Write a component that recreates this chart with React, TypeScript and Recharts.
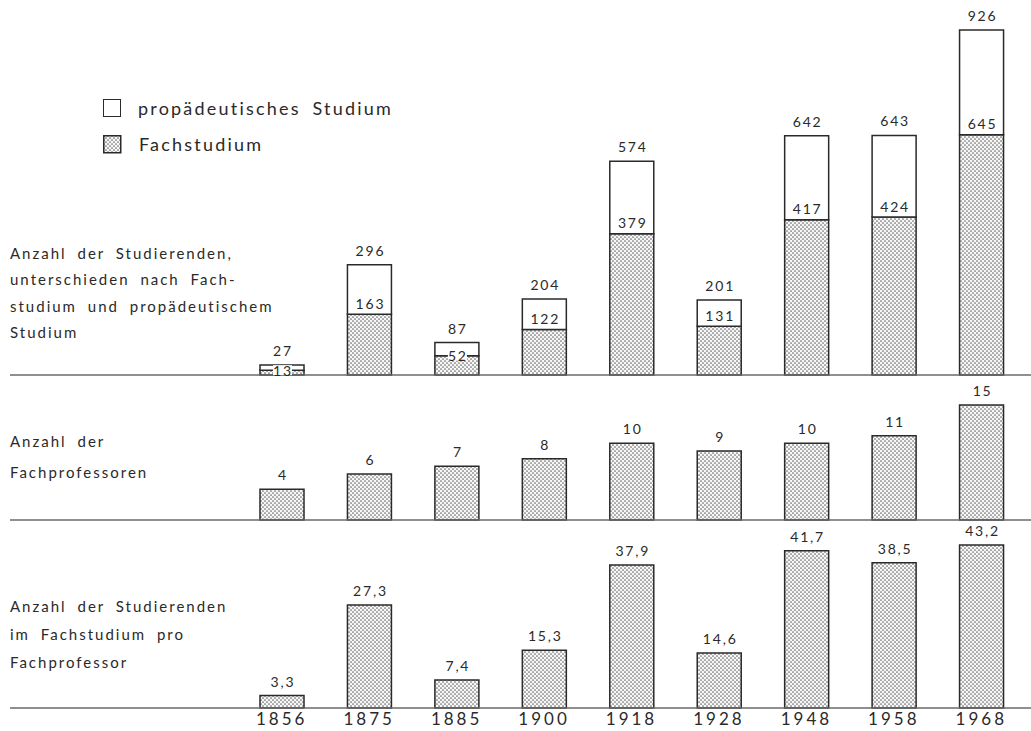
import React from 'react';
import { BarChart, Bar, XAxis, YAxis, LabelList } from 'recharts';

const years = ['1856', '1875', '1885', '1900', '1918', '1928', '1948', '1958', '1968'];
const totalStudents = [27, 296, 87, 204, 574, 201, 642, 643, 926];
const fachStudents = [13, 163, 52, 122, 379, 131, 417, 424, 645];
const professors = [4, 6, 7, 8, 10, 9, 10, 11, 15];
const studentsPerProf = [3.3, 27.3, 7.4, 15.3, 37.9, 14.6, 41.7, 38.5, 43.2];

const topData = years.map((y, i) => ({
  year: y,
  fach: fachStudents[i],
  prop: totalStudents[i] - fachStudents[i],
  total: totalStudents[i],
}));
const midData = years.map((y, i) => ({ year: y, v: professors[i] }));
const botData = years.map((y, i) => ({ year: y, v: studentsPerProf[i] }));

const FONT = 'Lato, "DejaVu Sans", sans-serif';
const INK = '#2a2a2a';
const AXIS = '#6a6a6a';

const Dots = ({ id }: { id: string }) => (
  <defs>
    <pattern id={id} width="4" height="4" patternUnits="userSpaceOnUse">
      <rect width="4" height="4" fill="#f7f7f7" />
      <circle cx="1" cy="1" r="0.85" fill="#6a6a6a" />
      <circle cx="3" cy="3" r="0.85" fill="#6a6a6a" />
    </pattern>
  </defs>
);

const fmt = (v: any) => String(v).replace('.', ',');

const topLabel = (props: any) => {
  const { x, y, width, value } = props;
  return (
    <text x={x + width / 2 + 1} y={y - 9} textAnchor="middle" fontSize={14} fontFamily={FONT} fill={INK} letterSpacing={1.8}>
      {fmt(value)}
    </text>
  );
};

const fachLabel = (props: any) => {
  const { x, y, width, height, index } = props;
  const boundary = y + height;
  const val = fachStudents[index];
  const cx = x + width / 2 + 1;
  if (height < 22) {
    return (
      <g>
        <rect x={cx - 10} y={boundary - 5} width={19} height={10} fill="#fff" />
        <text x={cx} y={boundary} dominantBaseline="central" textAnchor="middle" fontSize={14} fontFamily={FONT} fill={INK} letterSpacing={1.8}>
          {val}
        </text>
      </g>
    );
  }
  return (
    <text x={cx} y={boundary - 11} dominantBaseline="central" textAnchor="middle" fontSize={14} fontFamily={FONT} fill={INK} letterSpacing={1.8}>
      {val}
    </text>
  );
};

const commonX = {
  dataKey: 'year',
  padding: { left: 228, right: 6 },
  tickLine: false,
  axisLine: { stroke: AXIS, strokeWidth: 1.5 },
};

const sideText: React.CSSProperties = {
  position: 'absolute',
  left: 10,
  fontFamily: FONT,
  fontSize: 15,
  color: INK,
  letterSpacing: 2,
  wordSpacing: 5,
  whiteSpace: 'nowrap',
};

export default function App() {
  return (
    <div style={{ position: 'absolute', left: 0, top: 0, width: 1031, height: 731, background: '#fff', overflow: 'hidden' }}>
      {/* Legend */}
      <div style={{ position: 'absolute', left: 103, top: 90, fontFamily: FONT, fontSize: 18, color: INK, letterSpacing: 2.2, wordSpacing: 5 }}>
        <div style={{ display: 'flex', alignItems: 'center', height: 36 }}>
          <span style={{ width: 16, height: 16, border: `1.5px solid ${INK}`, background: '#fff', display: 'inline-block', marginRight: 17 }} />
          propädeutisches Studium
        </div>
        <div style={{ display: 'flex', alignItems: 'center', height: 36 }}>
          <svg width={19} height={19} style={{ marginRight: 17 }}>
            <Dots id="legdots" />
            <rect x={0.75} y={0.75} width={17} height={17} fill="url(#legdots)" stroke={INK} strokeWidth={1.5} />
          </svg>
          Fachstudium
        </div>
      </div>

      <div style={{ ...sideText, top: 240, lineHeight: '26.3px' }}>
        Anzahl der Studierenden,<br />unterschieden nach Fach-<br />studium und propädeutischem<br />Studium
      </div>
      <div style={{ ...sideText, top: 426, lineHeight: '31px' }}>
        Anzahl der<br />Fachprofessoren
      </div>
      <div style={{ ...sideText, top: 592, lineHeight: '28px' }}>
        Anzahl der Studierenden<br />im Fachstudium pro<br />Fachprofessor
      </div>

      {/* Top panel */}
      <div style={{ position: 'absolute', left: 0, top: 0 }}>
        <BarChart width={1031} height={380} data={topData} margin={{ top: 30, right: 0, bottom: 4, left: 10 }} barSize={44}>
          <Dots id="dotsTop" />
          <XAxis {...commonX} height={1} tick={false} />
          <YAxis hide domain={[0, 926]} />
          <Bar dataKey="fach" name="Fachstudium" stackId="a" fill="url(#dotsTop)" stroke={INK} strokeWidth={1.5} isAnimationActive={false} />
          <Bar dataKey="prop" name="propädeutisches Studium" stackId="a" fill="#fff" stroke={INK} strokeWidth={1.5} isAnimationActive={false}>
            <LabelList dataKey="prop" content={fachLabel} />
            <LabelList dataKey="total" content={topLabel} />
          </Bar>
        </BarChart>
      </div>

      {/* Middle panel */}
      <div style={{ position: 'absolute', left: 0, top: 380 }}>
        <BarChart width={1031} height={145} data={midData} margin={{ top: 25, right: 0, bottom: 4, left: 10 }} barSize={44}>
          <Dots id="dotsMid" />
          <XAxis {...commonX} height={1} tick={false} />
          <YAxis hide domain={[0, 15]} />
          <Bar dataKey="v" fill="url(#dotsMid)" stroke={INK} strokeWidth={1.5} isAnimationActive={false}>
            <LabelList dataKey="v" content={topLabel} />
          </Bar>
        </BarChart>
      </div>

      {/* Bottom panel */}
      <div style={{ position: 'absolute', left: 0, top: 515 }}>
        <BarChart width={1031} height={215} data={botData} margin={{ top: 30, right: 0, bottom: 0, left: 10 }} barSize={44}>
          <Dots id="dotsBot" />
          <XAxis
            {...commonX}
            height={22}
            tick={{ fontSize: 17, fontFamily: FONT, fill: INK, letterSpacing: 3 }}
            tickMargin={0}
            tickSize={5}
          />
          <YAxis hide domain={[0, 43.2]} />
          <Bar dataKey="v" fill="url(#dotsBot)" stroke={INK} strokeWidth={1.5} isAnimationActive={false}>
            <LabelList dataKey="v" content={topLabel} />
          </Bar>
        </BarChart>
      </div>
    </div>
  );
}
